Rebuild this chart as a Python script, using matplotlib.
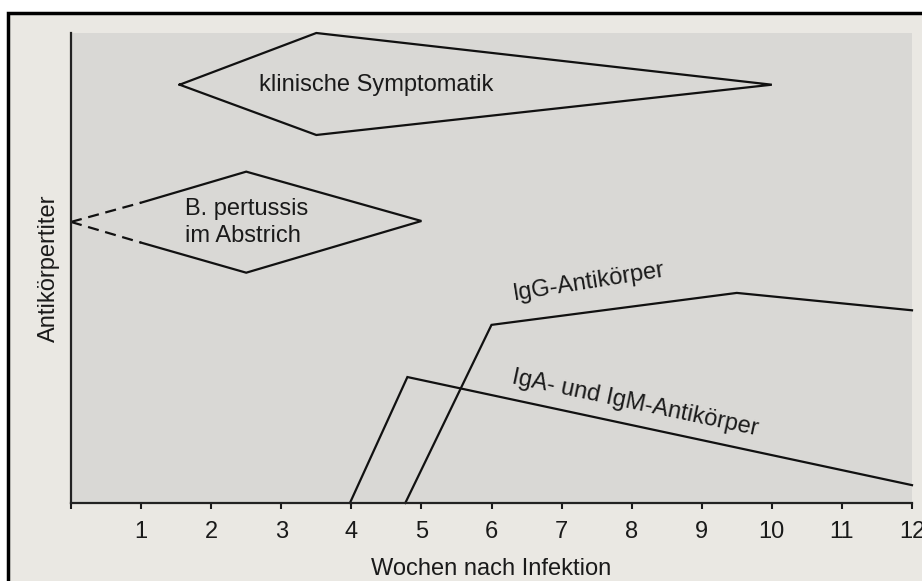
import matplotlib
matplotlib.use("Agg")
import matplotlib.pyplot as plt
from matplotlib.patches import Rectangle

plt.rcParams['font.family'] = ['Liberation Sans', 'DejaVu Sans']

# Data (weeks after infection, relative titer 0-100)
weeks_ticks = list(range(0, 13))
tick_labels = [''] + [str(w) for w in range(1, 13)]

symptom_x = [1.55, 3.5, 10.0, 3.5, 1.55]
symptom_y = [89.0, 100.0, 89.0, 78.3, 89.0]

pertussis_dash_x = [0.0, 1.0]
pertussis_dash_top_y = [59.8, 63.9]
pertussis_dash_bot_y = [59.8, 55.4]
pertussis_x = [1.0, 2.5, 5.0, 2.5, 1.0]
pertussis_y = [63.9, 70.5, 60.0, 49.0, 55.4]

iga_x = [3.98, 4.8, 12.0]
iga_y = [0.0, 26.8, 3.8]

igg_x = [4.77, 6.0, 9.5, 12.0]
igg_y = [0.0, 37.9, 44.7, 41.0]

W, H = 922, 581
fig = plt.figure(figsize=(W / 100, H / 100), dpi=100, facecolor='white')

# page background with black frame
bg = Rectangle((8 / W, -0.2), 1.2, (H - 13) / H + 0.2,
               transform=fig.transFigure, facecolor='#eae8e3',
               edgecolor='black', linewidth=2.5, zorder=-10)
fig.patches.append(bg)

ax = fig.add_axes([71 / W, (H - 503) / H, (912 - 71) / W, (503 - 33) / H])
ax.set_facecolor('#d9d8d5')
ax.set_xlim(0, 12)
ax.set_ylim(0, 100)

lw = 1.6
ink = '#111111'
ax.plot(symptom_x, symptom_y, color=ink, lw=lw, clip_on=False,
        solid_joinstyle='miter')
ax.plot(pertussis_dash_x, pertussis_dash_top_y, color=ink, lw=lw,
        ls=(0, (5, 3)), clip_on=False)
ax.plot(pertussis_dash_x, pertussis_dash_bot_y, color=ink, lw=lw,
        ls=(0, (5, 3)), clip_on=False)
ax.plot(pertussis_x, pertussis_y, color=ink, lw=lw, clip_on=False,
        solid_joinstyle='miter')
ax.plot(iga_x, iga_y, color=ink, lw=lw, clip_on=False,
        solid_joinstyle='miter')
ax.plot(igg_x, igg_y, color=ink, lw=lw, clip_on=False,
        solid_joinstyle='miter')

fs = 17
txt = '#1a1a1a'
ax.text(4.35, 89.0, 'klinische Symptomatik', fontsize=fs, ha='center',
        va='center', color=txt)
ax.text(2.5, 59.6, 'B. pertussis\nim Abstrich', fontsize=fs, ha='center',
        va='center', multialignment='left', linespacing=1.3, color=txt)
ax.text(7.39, 47.0, 'IgG-Antikörper', fontsize=fs, ha='center',
        va='center', rotation=9, color=txt)
ax.text(8.05, 21.3, 'IgA- und IgM-Antikörper', fontsize=fs, ha='center',
        va='center', rotation=-12, color=txt)

for s in ['top', 'right']:
    ax.spines[s].set_visible(False)
for s in ['left', 'bottom']:
    ax.spines[s].set_linewidth(1.6)
    ax.spines[s].set_color('#222222')

ax.set_xticks(weeks_ticks)
ax.set_xticklabels(tick_labels, fontsize=fs, color=txt)
ax.set_yticks([])
ax.tick_params(axis='x', direction='out', length=4.5, width=1.5,
               pad=8.5, colors='#1a1a1a')
ax.set_xlabel('Wochen nach Infektion', fontsize=fs, color=txt,
              labelpad=11)
ax.set_ylabel('Antikörpertiter', fontsize=fs, color=txt, labelpad=8)

fig.savefig('out.png', dpi=100, facecolor=fig.get_facecolor())
